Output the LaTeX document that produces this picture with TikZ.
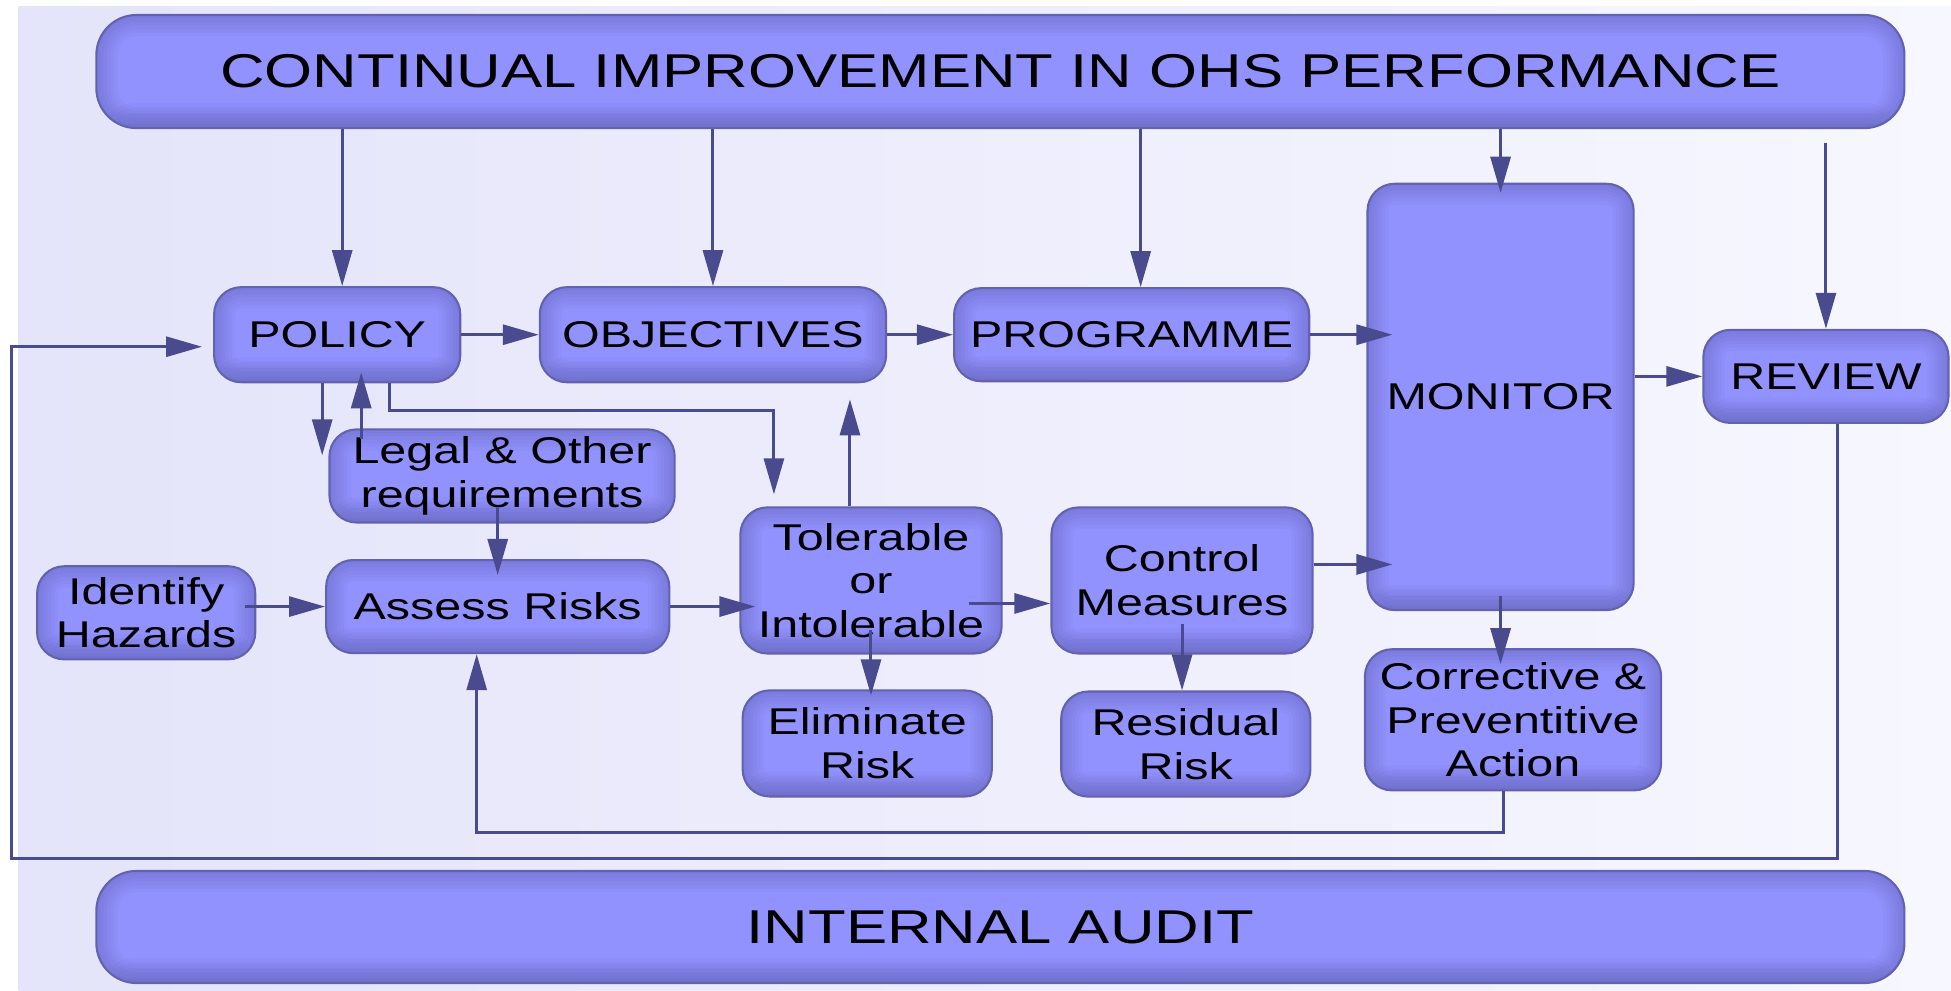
\documentclass[tikz,border=0pt]{standalone}
\usepackage{fontspec}
\newfontfamily\diagfont[FakeStretch=1.3]{Liberation Sans}
\usetikzlibrary{arrows.meta}
\definecolor{bgleft}{RGB}{228,228,250}
\definecolor{bgright}{RGB}{247,247,255}
\definecolor{boxfill}{RGB}{146,146,255}
\definecolor{boxdark}{RGB}{90,90,170}
\definecolor{boxline}{RGB}{98,98,176}
\definecolor{flowline}{RGB}{74,74,142}

\begin{document}
\begin{tikzpicture}[x=0.012443cm,y=-0.012443cm,
  glow/.style={path picture={
    \foreach \w in {2,4,6,8,10,12}
      \draw [boxdark,line width=\w pt,opacity=0.07,rounded corners=#1]
        (path picture bounding box.south west) rectangle (path picture bounding box.north east);
    \foreach \h in {0.05,0.1,0.15,0.2,0.25}
      \fill [boxdark,opacity=0.06] (path picture bounding box.south west) rectangle
        ([yshift=\h cm]path picture bounding box.south east);}},
  stagebox/.style={draw=boxline,line width=0.6pt,rounded corners=0.27cm,fill=boxfill,glow=0.27cm,
    text=black,inner sep=0pt,align=center,font=\diagfont\fontsize{10.6}{12.4}\selectfont},
  bannerbox/.style={draw=boxline,line width=0.6pt,rounded corners=0.4cm,fill=boxfill,glow=0.4cm,
    text=black,inner sep=0pt,align=center,font=\diagfont\fontsize{13.5}{15}\selectfont},
  flow/.style={draw=flowline,line width=0.85pt,-{Triangle[length=0.36cm,width=0.2cm]}}]
\useasboundingbox (0,0) rectangle (1568,796);
\shade [left color=bgleft,right color=bgright] (15,5) rectangle (1568,796);

\node [bannerbox,minimum width=18.07cm,minimum height=1.13cm] (top) at (804,57.5) {CONTINUAL IMPROVEMENT IN OHS PERFORMANCE};
\node [bannerbox,minimum width=18.07cm,minimum height=1.12cm] (audit) at (804,745) {INTERNAL AUDIT};
\node [stagebox,minimum width=2.46cm,minimum height=0.95cm] (policy) at (271,269) {POLICY};
\node [stagebox,minimum width=3.46cm,minimum height=0.95cm] (objectives) at (573,269) {OBJECTIVES};
\node [stagebox,minimum width=3.55cm,minimum height=0.93cm] (programme) at (909.5,269) {PROGRAMME};
\node [stagebox,minimum width=2.66cm,minimum height=4.26cm] (monitor) at (1206,319) {MONITOR};
\node [stagebox,minimum width=2.45cm,minimum height=0.93cm] (review) at (1467.5,302.5) {REVIEW};
\node [stagebox,minimum width=3.45cm,minimum height=0.93cm] (legal) at (403.5,382.5) {Legal \& Other\\requirements};
\node [stagebox,minimum width=2.18cm,minimum height=0.93cm] (identify) at (117.5,492.5) {Identify\\Hazards};
\node [stagebox,minimum width=3.43cm,minimum height=0.93cm] (assess) at (400,487.5) {Assess Risks};
\node [stagebox,minimum width=2.61cm,minimum height=1.46cm] (tolerable) at (700,466.5) {Tolerable\\or\\Intolerable};
\node [stagebox,minimum width=2.61cm,minimum height=1.46cm] (control) at (950,466.5) {Control\\Measures};
\node [stagebox,minimum width=2.49cm,minimum height=1.06cm] (eliminate) at (697,597.5) {Eliminate\\Risk};
\node [stagebox,minimum width=2.49cm,minimum height=1.05cm] (residual) at (953,598) {Residual\\Risk};
\node [stagebox,minimum width=2.96cm,minimum height=1.41cm] (corrective) at (1216,578.5) {Corrective \&\\Preventitive\\Action};
\coordinate (reviewin) at (1467.5,115);
\coordinate (loopcorner) at (9.4,690);

\draw [flow] ([xshift=0.05cm]top.south -| policy.north) -- ([xshift=0.05cm]policy.north);
\draw [flow] (top.south -| objectives.north) -- (objectives.north);
\draw [flow] ([xshift=0.09cm]top.south -| programme.north) -- ([xshift=0.09cm]programme.north);
\draw [flow,shorten >=-0.1cm] (top.south -| monitor.north) -- (monitor.north);
\draw [flow] (reviewin) -- (review.north);
\draw [flow] (policy) -- (objectives);
\draw [flow] (objectives) -- (programme);
\draw [flow,shorten >=-0.26cm] (programme.east) -- (programme.east -| monitor.west);
\draw [flow] (monitor.east |- review) -- (review.west);
\draw [flow,shorten >=0.11cm] ([xshift=0.12cm]review.south) |- (loopcorner) |- ([yshift=-0.12cm]policy.west);
\draw [flow,shorten >=-0.27cm] ([xshift=-0.15cm]policy.south) -- ([xshift=-0.15cm]policy.south |- legal.north);
\draw [flow,shorten <=-0.11cm,shorten >=-0.11cm] ([xshift=0.24cm]policy.south |- legal.north) -- ([xshift=0.24cm]policy.south);
\draw [flow,shorten >=0.12cm] ([xshift=0.52cm]policy.south) -- ++(0,22) -| ([xshift=-0.97cm]tolerable.north);
\draw [flow,shorten >=0.16cm] ([xshift=-0.21cm]tolerable.north) -- ([xshift=-0.21cm]tolerable.north |- objectives.south);
\draw [flow,shorten <=-0.16cm,shorten >=-0.16cm] (legal.south -| assess.north) -- (assess.north);
\draw [flow,shorten <=-0.11cm] (identify.east |- assess) -- (assess.west);
\draw [flow,shorten >=-0.16cm] (assess.east) -- (assess.east -| tolerable.west);
\draw [flow,shorten <=-0.34cm] ([yshift=-0.23cm]tolerable.east) -- ([yshift=-0.23cm]control.west);
\draw [flow,shorten <=-0.25cm,shorten >=-0.06cm] (tolerable.south) -- (tolerable.south |- eliminate.north);
\draw [flow,shorten >=-0.26cm] ([yshift=0.16cm]control.east) -- ([yshift=0.16cm]control.east -| monitor.west);
\draw [flow,shorten <=-0.31cm] (control.south) -- (control.south |- residual.north);
\draw [flow,shorten <=-0.15cm,shorten >=-0.16cm] (monitor.south) -- (monitor.south |- corrective.north);
\draw [flow] ([xshift=-0.1cm]corrective.south) -- ++(0,33) -| ([xshift=-0.21cm]assess.south);
\end{tikzpicture}
\end{document}
